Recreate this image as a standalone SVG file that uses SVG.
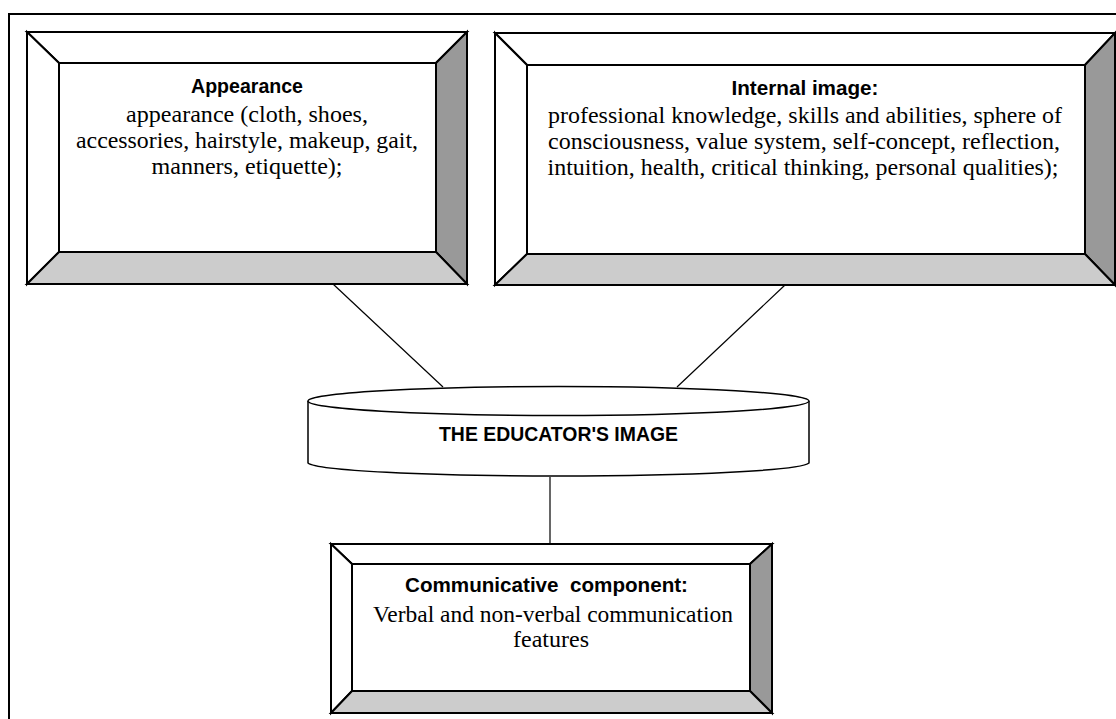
<svg xmlns="http://www.w3.org/2000/svg" width="1116" height="719" viewBox="0 0 1116 719">
<style>
.edge{stroke:#000;stroke-width:2;stroke-linejoin:miter}
.line{stroke:#000;stroke-width:1.2;fill:none}
.lt{fill:#ffffff}
.dk{fill:#999999}
.md{fill:#cccccc}
.hd{font-family:"Liberation Sans",Arial,sans-serif;font-weight:bold;font-size:20px;fill:#000;text-anchor:middle}
.bd{font-family:"Liberation Serif","Times New Roman",serif;font-size:23px;fill:#000;text-anchor:middle}
</style>
<rect x="0" y="0" width="1116" height="719" fill="#fff"/>
<rect x="9" y="14" width="1130" height="730" fill="none" stroke="#000" stroke-width="2"/>

<g id="connectors">
<line class="line" x1="333" y1="284" x2="443" y2="387"/>
<line class="line" x1="785" y1="285" x2="677" y2="387"/>
<line class="line" x1="550" y1="477" x2="550" y2="544"/>
</g>

<g id="appearance">
<polygon class="lt edge" points="27,32 467,32 436,63 59,63"/>
<polygon class="lt edge" points="27,32 59,63 59,252 27,284"/>
<polygon class="dk edge" points="467,32 467,284 436,252 436,63"/>
<polygon class="md edge" points="27,284 59,252 436,252 467,284"/>
<rect class="edge" x="59" y="63" width="377" height="189" fill="#fff"/>
<text class="hd" x="247" y="93" textLength="112" lengthAdjust="spacingAndGlyphs">Appearance</text>
<text class="bd" x="247" y="122" textLength="242" lengthAdjust="spacingAndGlyphs">appearance (cloth, shoes,</text>
<text class="bd" x="247" y="148" textLength="342" lengthAdjust="spacingAndGlyphs">accessories, hairstyle, makeup, gait,</text>
<text class="bd" x="247" y="174" textLength="191" lengthAdjust="spacingAndGlyphs">manners, etiquette);</text>
</g>

<g id="internal">
<polygon class="lt edge" points="495,33 1115,33 1085,65 527,65"/>
<polygon class="lt edge" points="495,33 527,65 527,254 495,285"/>
<polygon class="dk edge" points="1115,33 1115,285 1085,254 1085,65"/>
<polygon class="md edge" points="495,285 527,254 1085,254 1115,285"/>
<rect class="edge" x="527" y="65" width="558" height="189" fill="#fff"/>
<text class="hd" x="805" y="95" textLength="147" lengthAdjust="spacingAndGlyphs">Internal image:</text>
<text class="bd" x="805" y="123" textLength="514" lengthAdjust="spacingAndGlyphs">professional knowledge, skills and abilities, sphere of</text>
<text class="bd" x="804" y="149" textLength="512" lengthAdjust="spacingAndGlyphs">consciousness, value system, self-concept, reflection,</text>
<text class="bd" x="803" y="175" textLength="511" lengthAdjust="spacingAndGlyphs">intuition, health, critical thinking, personal qualities);</text>
</g>

<g id="educator">
<path d="M308,401 L308,463 A251,14 0 0 0 809,463 L809,401" fill="#fff" stroke="#000" stroke-width="1.5"/>
<ellipse cx="558.5" cy="401" rx="250.5" ry="14.5" fill="#fff" stroke="#000" stroke-width="1.5"/>
<text class="hd" x="558.5" y="441" textLength="239" lengthAdjust="spacingAndGlyphs">THE EDUCATOR'S IMAGE</text>
</g>

<g id="communicative">
<polygon class="lt edge" points="331,544 772,544 750,564 352,564"/>
<polygon class="lt edge" points="331,544 352,564 352,691 331,713"/>
<polygon class="dk edge" points="772,544 772,713 750,691 750,564"/>
<polygon class="md edge" points="331,713 352,691 750,691 772,713"/>
<rect class="edge" x="352" y="564" width="398" height="127" fill="#fff"/>
<text class="hd" x="546.5" y="592" textLength="283" lengthAdjust="spacingAndGlyphs" xml:space="preserve">Communicative  component:</text>
<text class="bd" x="553" y="622" textLength="360" lengthAdjust="spacingAndGlyphs">Verbal and non-verbal communication</text>
<text class="bd" x="551" y="647" textLength="76" lengthAdjust="spacingAndGlyphs">features</text>
</g>
</svg>
